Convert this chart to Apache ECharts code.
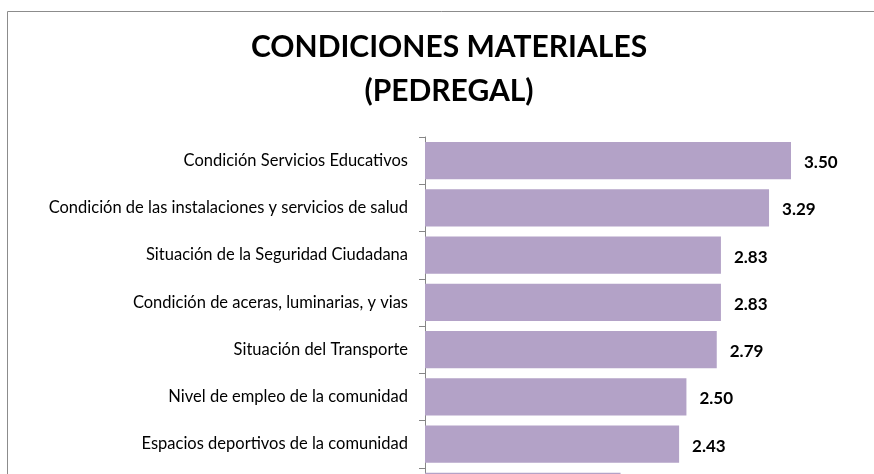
<!DOCTYPE html>
<html>
<head>
<meta charset="utf-8">
<script src="https://cdn.jsdelivr.net/npm/echarts@6/dist/echarts.min.js"></script>
<style>
  html, body { margin: 0; padding: 0; background: #fff; }
  #chart { width: 874px; height: 474px; }
</style>
</head>
<body>
<div id="chart"></div>
<script>
  // categorias (de arriba hacia abajo)
  var categories = [
    'Condición Servicios Educativos',
    'Condición de las instalaciones y servicios de salud',
    'Situación de la Seguridad Ciudadana',
    'Condición de aceras, luminarias, y vias',
    'Situación del Transporte',
    'Nivel de empleo de la comunidad',
    'Espacios deportivos de la comunidad',
    '' // la octava barra queda cortada abajo, su etiqueta no se ve
  ]
  var values = [3.50, 3.29, 2.83, 2.83, 2.79, 2.50, 2.43, 1.87]

  var chart = echarts.init(document.getElementById('chart'))
  var option = {
    animation: false,
    title: {
      text: 'CONDICIONES MATERIALES\n(PEDREGAL)',
      left: 444,
      top: 20,
      textAlign: 'center',
      textStyle: {
        fontFamily: 'Lato',
        fontWeight: 'bold',
        fontSize: 30,
        lineHeight: 44,
        color: '#000'
      }
    },
    graphic: [{
      type: 'rect',
      shape: { x: 7.5, y: 11.5, width: 900, height: 500 },
      style: { fill: 'none', stroke: '#8c8c8c', lineWidth: 1 },
      silent: true
    }],
    grid: {
      left: 425,
      top: 137,
      width: 366,
      height: 378,
      outerBoundsMode: 'none'
    },
    xAxis: {
      type: 'value',
      min: 0,
      max: 3.5,
      show: false
    },
    yAxis: {
      type: 'category',
      inverse: true,
      data: categories,
      axisLine: { show: true, lineStyle: { color: '#868686', width: 1 } },
      axisTick: { show: true, length: 6, lineStyle: { color: '#868686' } },
      axisLabel: {
        margin: 17,
        fontFamily: 'Lato',
        fontSize: 16.5,
        color: '#000'
      },
      splitLine: { show: false }
    },
    series: [{
      type: 'bar',
      data: values,
      barCategoryGap: '21%',
      itemStyle: { color: '#b3a2c7' },
      label: {
        show: true,
        position: 'right',
        distance: 13,
        offset: [0, 2],
        fontFamily: 'Lato',
        fontWeight: 'bold',
        fontSize: 17,
        color: '#000',
        formatter: function(p) {
          return p.value.toFixed(2)
        }
      }
    }]
  }
  chart.setOption(option)
</script>
</body>
</html>
